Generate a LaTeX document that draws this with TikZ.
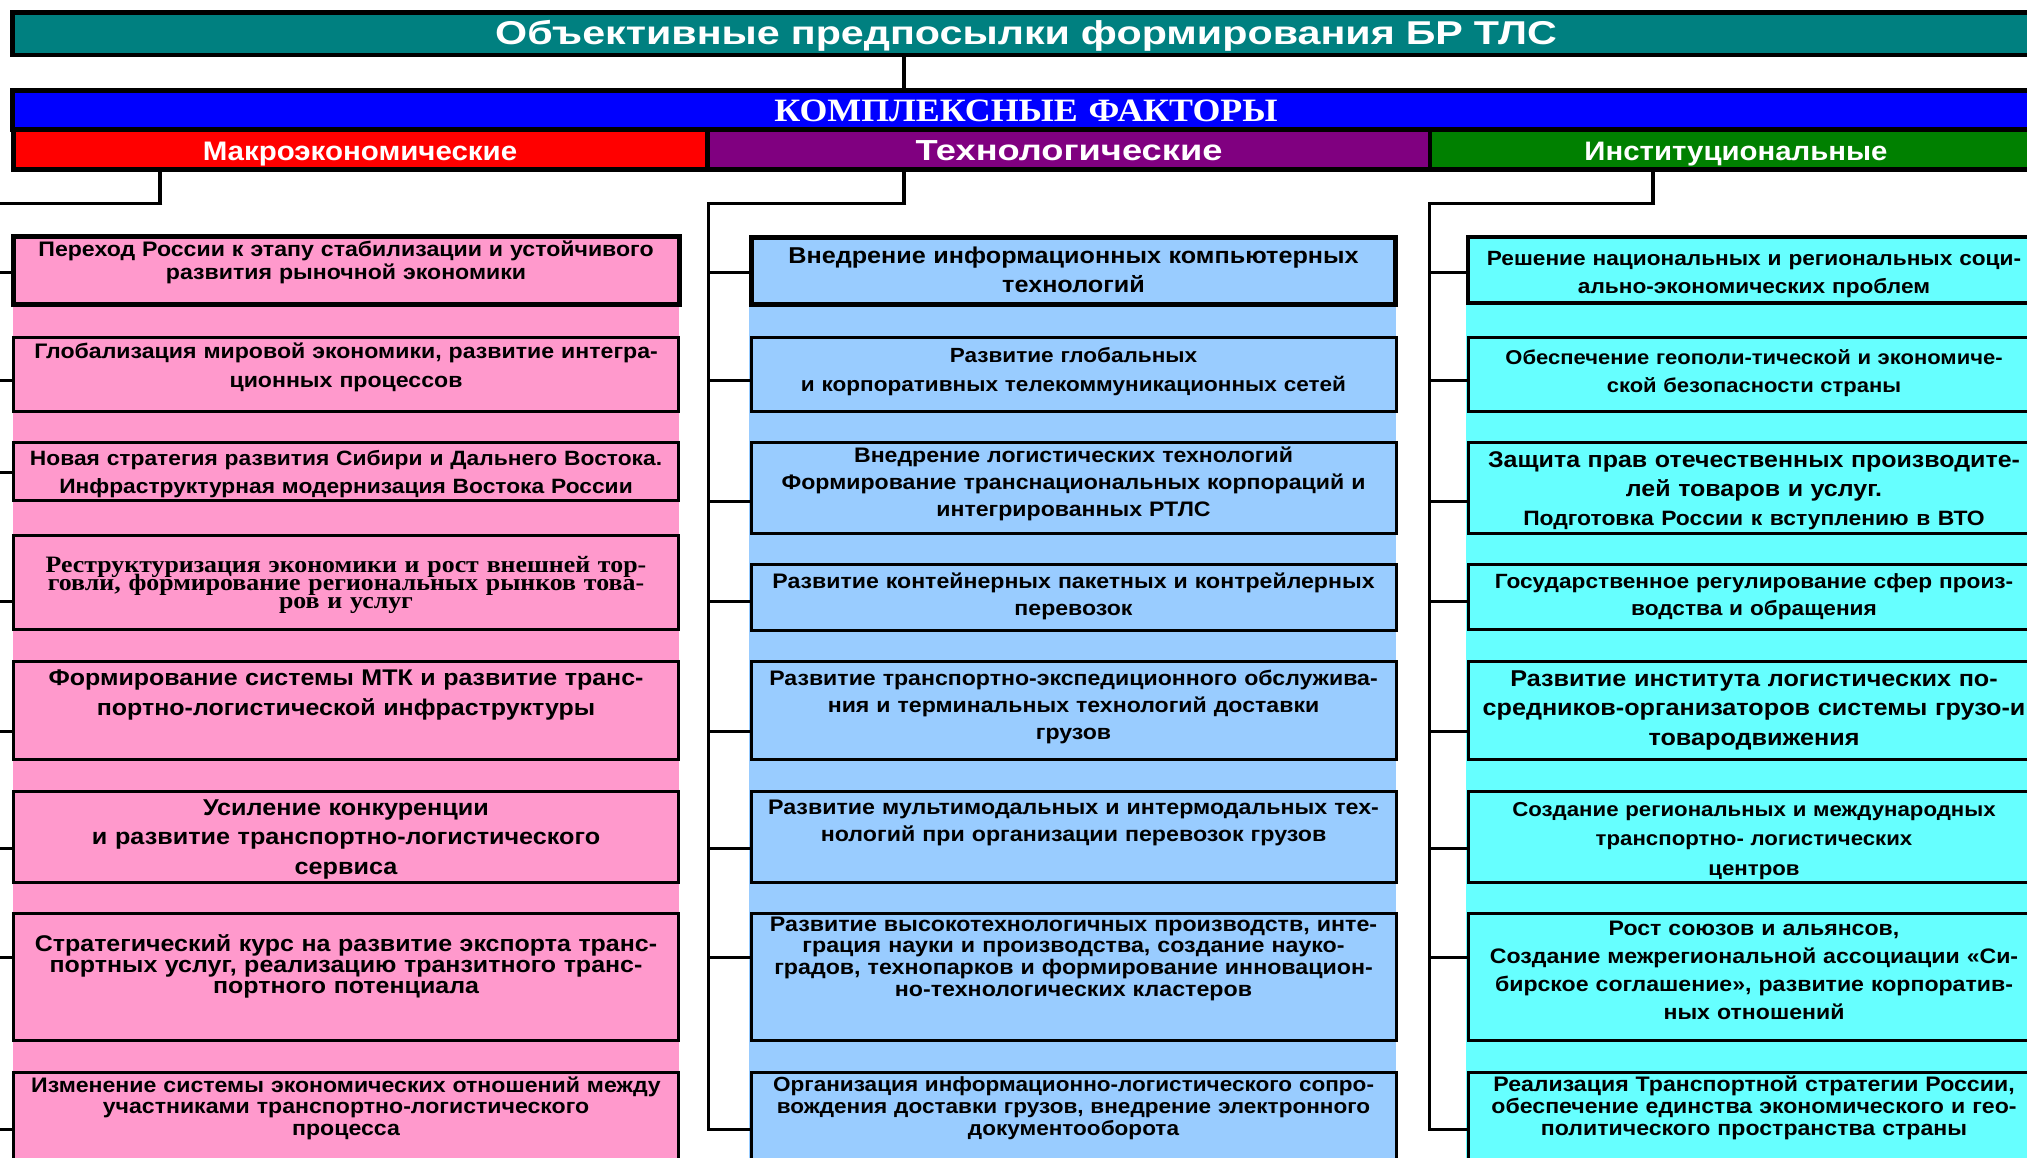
\documentclass[tikz,border=0pt]{standalone}
\usepackage{fontspec}
\newfontfamily\sansB{Liberation Sans}[FakeStretch=1.1]
\newfontfamily\titleB{Liberation Sans}[FakeStretch=1.25]
\newfontfamily\serifB{Liberation Serif}[FakeStretch=1.1]
\newcommand\fsz[2]{\fontsize{#1}{#2}\selectfont\lineskiplimit=-50pt\lineskip=0pt}
\definecolor{teal0}{RGB}{0,128,128}
\definecolor{blue0}{RGB}{0,0,255}
\definecolor{red0}{RGB}{255,0,0}
\definecolor{purple0}{RGB}{128,0,128}
\definecolor{green0}{RGB}{0,128,0}
\definecolor{pink0}{RGB}{255,153,204}
\definecolor{lblue0}{RGB}{153,204,255}
\definecolor{cyan0}{RGB}{102,255,255}
\tikzset{
  bar/.style={draw=black, line width=4.5pt, rectangle, inner sep=0pt, outer sep=0pt},
  bx/.style={draw=black, line width=3pt, rectangle, inner sep=0pt, outer sep=0pt},
  bxthick/.style={bx, line width=5pt},
  mcol/.style={fill=pink0, minimum width=665pt},
  tcol/.style={fill=lblue0, minimum width=645pt},
  icol/.style={fill=cyan0, minimum width=572pt},
  txt/.style={anchor=base, inner sep=0pt, outer sep=0pt, text width=760pt, align=center, text=black},
  wtxt/.style={txt, text=white},
  con/.style={draw=black, line width=3pt},
  drop/.style={draw=black, line width=4.5pt},
}
\begin{document}
\begin{tikzpicture}[x=1pt, y=-1pt]
\useasboundingbox (0,0) rectangle (2027,1157);
\fill[white] (0,0) rectangle (2027,1157);
% background strips
\fill[pink0] (12.5,234) rectangle (679,1200);
\fill[lblue0] (749,235) rectangle (1396,1200);
\fill[cyan0] (1466,235) rectangle (2045,1200);

% header bars
\node[bar, fill=teal0, minimum width=2032pt, minimum height=42.5pt] (title) at (1028.5,33.5) {};
\node[bar, fill=blue0, minimum width=2032pt, minimum height=39pt] (kbar) at (1028.5,110) {};
\node[bar, fill=red0, minimum width=694pt, minimum height=40pt] (mcat) at (360.5,149.5) {};
\node[bar, fill=purple0, minimum width=722.5pt, minimum height=40pt] (tcat) at (1068.75,149.5) {};
\node[bar, fill=green0, minimum width=615pt, minimum height=40pt] (icat) at (1737.5,149.5) {};

% macro boxes
\node[bxthick, mcol, minimum width=666pt, minimum height=68pt] (m1) at (346.5,270.5) {};
\node[bx, mcol, minimum height=74pt] (m2) at (346,374.5) {};
\node[bx, mcol, minimum height=58pt] (m3) at (346,471.5) {};
\node[bx, mcol, minimum height=94pt] (m4) at (346,582.5) {};
\node[bx, mcol, minimum height=98pt] (m5) at (346,710.5) {};
\node[bx, mcol, minimum height=91pt] (m6) at (346,837) {};
\node[bx, mcol, minimum height=127pt] (m7) at (346,977) {};
\node[bx, mcol, minimum height=126pt] (m8) at (346,1135.5) {};
% tech boxes
\node[bxthick, tcol, minimum width=644pt, minimum height=67pt] (t1) at (1073.5,271) {};
\node[bx, tcol, minimum height=74pt] (t2) at (1073.5,374.5) {};
\node[bx, tcol, minimum height=91pt] (t3) at (1073.5,488) {};
\node[bx, tcol, minimum height=66pt] (t4) at (1073.5,597.5) {};
\node[bx, tcol, minimum height=98pt] (t5) at (1073.5,710.5) {};
\node[bx, tcol, minimum height=91pt] (t6) at (1073.5,837) {};
\node[bx, tcol, minimum height=127pt] (t7) at (1073.5,977) {};
\node[bx, tcol, minimum height=126pt] (t8) at (1073.5,1135.5) {};
% institutional boxes
\node[bx, icol, line width=4pt, minimum height=66pt] (i1) at (1754,269.5) {};
\node[bx, icol, minimum height=74pt] (i2) at (1754,374.5) {};
\node[bx, icol, minimum height=91pt] (i3) at (1754,488) {};
\node[bx, icol, minimum height=65pt] (i4) at (1754,597) {};
\node[bx, icol, minimum height=98pt] (i5) at (1754,710.5) {};
\node[bx, icol, minimum height=91pt] (i6) at (1754,837) {};
\node[bx, icol, minimum height=127pt] (i7) at (1754,977) {};
\node[bx, icol, minimum height=126pt] (i8) at (1754,1135.5) {};

% connectors
\coordinate (hx) at (904,0);
\draw[drop] (title.south -| hx) -- (kbar.north -| hx);
\coordinate (mj) at (160,203); \coordinate (mt) at (-5,203);
\coordinate (tj) at (904,203); \coordinate (tt) at (708,203);
\coordinate (ij) at (1653,203); \coordinate (it) at (1429,203);
\draw[drop] (mcat.south -| mj) -- ([yshift=-1.5pt]mj);
\draw[drop] (tcat.south -| tj) -- ([yshift=-1.5pt]tj);
\draw[drop] (icat.south -| ij) -- ([yshift=-1.5pt]ij);
\draw[con] ([xshift=2.25pt]mj) -- (mt) -- (-5,1129) -- (m8.west |- 0,1129);
\draw[con] ([xshift=2.25pt]tj) -- (tt) -- (708,1129) -- (t8.west |- 0,1129);
\draw[con] ([xshift=2.25pt]ij) -- (it) -- (1429,1129) -- (i8.west |- 0,1129);
\foreach \n/\y in {1/272,2/380,3/472,4/601,5/731,6/848,7/957}
  \draw[con] (-5,\y) -- (m\n.west |- 0,\y);
\foreach \n/\y in {1/272,2/380,3/501,4/601,5/731,6/848,7/957}{
  \draw[con] (708,\y) -- (t\n.west |- 0,\y);
  \draw[con] (1429,\y) -- (i\n.west |- 0,\y);
}

% header texts
\node[wtxt, text width=1400pt, font=\titleB\bfseries\fsz{33}{40}] (titlet) at (1026,44) {Объективные предпосылки формирования БР ТЛС};
\node[wtxt, font=\serifB\bfseries\fsz{32.6}{36}] (kbart) at (1026,121) {КОМПЛЕКСНЫЕ ФАКТОРЫ};
\node[wtxt, font=\sansB\bfseries\fsz{26.8}{32}] (mcatt) at (360,160) {Макроэкономические};
\node[wtxt, font=\titleB\bfseries\fsz{29}{32}] (tcatt) at (1069,160) {Технологические};
\node[wtxt, font=\sansB\bfseries\fsz{26.7}{32}] (icatt) at (1736,160) {Институциональные};

% macro texts
\node[txt, font=\sansB\bfseries\fsz{21}{23}] (m1t) at (346,256) {Переход России к этапу стабилизации и устойчивого\\развития рыночной экономики};
\node[txt, font=\sansB\bfseries\fsz{21}{29}] (m2t) at (346,358) {Глобализация мировой экономики, развитие интегра-\\ционных процессов};
\node[txt, font=\sansB\bfseries\fsz{20.7}{28}] (m3t) at (346,465) {Новая стратегия развития Сибири и Дальнего Востока.\\Инфраструктурная модернизация Востока России};
\node[txt, font=\serifB\bfseries\fsz{23.5}{18.3}] (m4t) at (346,572) {Реструктуризация экономики и рост внешней тор-\\говли, формирование региональных рынков това-\\ров и услуг};
\node[txt, font=\sansB\bfseries\fsz{22.7}{30}] (m5t) at (346,685) {Формирование системы МТК и развитие транс-\\портно-логистической инфраструктуры};
\node[txt, font=\sansB\bfseries\fsz{22.9}{29.5}] (m6t) at (346,815) {Усиление конкуренции\\и развитие транспортно-логистического\\сервиса};
\node[txt, font=\sansB\bfseries\fsz{22.7}{21}] (m7t) at (346,951.5) {Стратегический курс на развитие экспорта транс-\\портных услуг, реализацию транзитного транс-\\портного потенциала};
\node[txt, font=\sansB\bfseries\fsz{21}{21.7}] (m8t) at (346,1092) {Изменение системы экономических отношений между\\участниками транспортно-логистического\\процесса};

% tech texts
\node[txt, font=\sansB\bfseries\fsz{22.9}{29.5}] (t1t) at (1073.5,263) {Внедрение информационных компьютерных\\технологий};
\node[txt, font=\sansB\bfseries\fsz{20.5}{29}] (t2t) at (1073.5,362) {Развитие глобальных\\и корпоративных телекоммуникационных сетей};
\node[txt, font=\sansB\bfseries\fsz{21}{27}] (t3t) at (1073.5,462) {Внедрение логистических технологий\\Формирование транснациональных корпораций и\\интегрированных РТЛС};
\node[txt, font=\sansB\bfseries\fsz{21}{27}] (t4t) at (1073.5,588) {Развитие контейнерных пакетных и контрейлерных\\перевозок};
\node[txt, font=\sansB\bfseries\fsz{21}{27}] (t5t) at (1073.5,685) {Развитие транспортно-экспедиционного обслужива-\\ния и терминальных технологий доставки\\грузов};
\node[txt, font=\sansB\bfseries\fsz{21.1}{26.5}] (t6t) at (1073.5,814.5) {Развитие мультимодальных и интермодальных тех-\\нологий при организации перевозок грузов};
\node[txt, font=\sansB\bfseries\fsz{21.1}{21.7}] (t7t) at (1073.5,931) {Развитие высокотехнологичных производств, инте-\\грация науки и производства, создание науко-\\градов, технопарков и формирование инновацион-\\но-технологических кластеров};
\node[txt, font=\sansB\bfseries\fsz{20.5}{22}] (t8t) at (1073.5,1091) {Организация информационно-логистического сопро-\\вождения доставки грузов, внедрение электронного\\документооборота};

% institutional texts
\node[txt, font=\sansB\bfseries\fsz{20.6}{28}] (i1t) at (1754,265) {Решение национальных и региональных соци-\\ально-экономических проблем};
\node[txt, font=\sansB\bfseries\fsz{20}{28}] (i2t) at (1754,364) {Обеспечение геополи-тической и экономиче-\\ской безопасности страны};
\node[txt, font=\sansB\bfseries\fsz{22.7}{29}] (i3t) at (1754,467) {Защита прав отечественных производите-\\лей товаров и услуг.\\{\fsz{20.8}{29}Подготовка России к вступлению в ВТО}};
\node[txt, font=\sansB\bfseries\fsz{20.6}{27}] (i4t) at (1754,588) {Государственное регулирование сфер произ-\\водства и обращения};
\node[txt, font=\sansB\bfseries\fsz{22.9}{29.5}] (i5t) at (1754,686) {Развитие института логистических по-\\средников-организаторов системы грузо-и\\товародвижения};
\node[txt, font=\sansB\bfseries\fsz{20.2}{29.5}] (i6t) at (1754,816) {Создание региональных и международных\\транспортно- логистических\\центров};
\node[txt, font=\sansB\bfseries\fsz{21}{28}] (i7t) at (1754,935) {Рост союзов и альянсов,\\Создание межрегиональной ассоциации «Си-\\бирское соглашение», развитие корпоратив-\\ных отношений};
\node[txt, font=\sansB\bfseries\fsz{21}{22}] (i8t) at (1754,1091) {Реализация Транспортной стратегии России,\\обеспечение единства экономического и гео-\\политического пространства страны};
\end{tikzpicture}
\end{document}
